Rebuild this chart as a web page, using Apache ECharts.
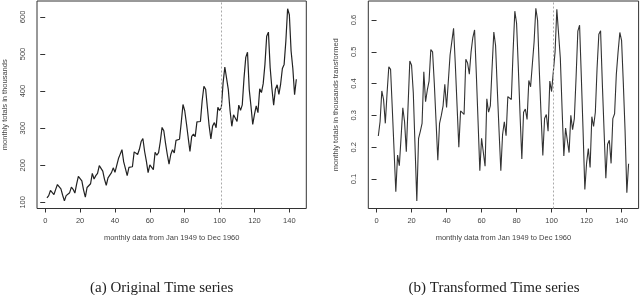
<!DOCTYPE html>
<html>
<head>
<meta charset="utf-8">
<script src="https://cdn.jsdelivr.net/npm/echarts@6/dist/echarts.min.js"></script>
<style>html,body{margin:0;padding:0;background:#fff}#c{width:640px;height:295px}</style>
</head>
<body>
<div id="c"></div>
<script>
// Original monthly totals (thousands), Jan 1949 .. Dec 1960
const original = [
  112,118,132,129,121,135,148,148,136,119,104,118,
  115,126,141,135,125,149,170,170,158,133,114,140,
  145,150,178,163,172,178,199,199,184,162,146,166,
  171,180,193,181,183,218,230,242,209,191,172,194,
  196,196,236,235,229,243,264,272,237,211,180,201,
  204,188,235,227,234,264,302,293,259,229,203,229,
  242,233,267,269,270,315,364,347,312,274,237,278,
  284,277,317,313,318,374,413,405,355,306,271,306,
  315,301,356,348,355,422,465,467,404,347,305,336,
  340,318,362,348,363,435,491,505,404,359,310,337,
  360,342,406,396,420,472,548,559,463,407,362,405,
  417,391,419,461,472,535,622,606,508,461,390,432
];
// Transformed series
const transformed = [
  0.235,0.28,0.377,0.35,0.275,0.37,0.453,0.445,0.32,0.19,0.06,0.175,
  0.142,0.23,0.324,0.28,0.186,0.33,0.471,0.458,0.37,0.2,0.031,0.228,
  0.25,0.275,0.437,0.343,0.38,0.408,0.507,0.5,0.4,0.28,0.159,0.275,
  0.3,0.33,0.398,0.325,0.325,0.49,0.532,0.574,0.46,0.33,0.2,0.314,
  0.31,0.303,0.477,0.465,0.43,0.5,0.545,0.569,0.43,0.28,0.126,0.228,
  0.23,0.14,0.352,0.31,0.33,0.45,0.562,0.52,0.38,0.25,0.126,0.24,
  0.28,0.236,0.359,0.355,0.35,0.5,0.628,0.59,0.45,0.3,0.163,0.31,
  0.32,0.287,0.41,0.39,0.395,0.53,0.637,0.6,0.44,0.3,0.174,0.29,
  0.303,0.25,0.408,0.375,0.38,0.5,0.634,0.628,0.48,0.32,0.172,0.26,
  0.26,0.183,0.3,0.255,0.29,0.42,0.565,0.584,0.42,0.25,0.067,0.15,
  0.196,0.136,0.296,0.265,0.31,0.45,0.555,0.566,0.4,0.25,0.102,0.209,
  0.222,0.149,0.29,0.305,0.43,0.5,0.561,0.535,0.4,0.25,0.057,0.148
];
const xTicks = [0,20,40,60,80,100,120,140];
const yTicksLeft = [100,200,300,400,500,600];
const yTicksRight = [0.1,0.2,0.3,0.4,0.5,0.6];
const splitPoint = 101;
const xTitle = 'monthly data from Jan 1949 to Dec 1960';
const yTitleLeft = 'monthly totals in thousands';
const yTitleRight = 'monthly totals in thousands transformed';
const captionA = '(a) Original Time series';
const captionB = '(b) Transformed Time series';

const chart = echarts.init(document.getElementById('c'), null, {renderer:'canvas'});
const FONT = 'Liberation Sans';
const FS = 7.5;
const TXT = '#444';
const LINE = '#333';

function xAxisCfg(gi){
  return {
    type:'value', gridIndex:gi, min:-4.72, max:149.72,
    axisLine:{show:false},
    splitLine:{show:false},
    axisTick:{show:true, inside:false, length:4, customValues:xTicks, lineStyle:{color:LINE,width:1}},
    axisLabel:{show:true, customValues:xTicks, margin:8, fontSize:FS, fontFamily:FONT, color:TXT},
    name:xTitle, nameLocation:'middle', nameGap:25,
    nameTextStyle:{fontSize:FS, fontFamily:FONT, color:TXT}
  };
}
function yAxisCfg(gi, min, max, ticks, title){
  return {
    type:'value', gridIndex:gi, min:min, max:max,
    axisLine:{show:false},
    splitLine:{show:false},
    axisTick:{show:true, inside:false, length:5, customValues:ticks, lineStyle:{color:LINE,width:1}},
    axisLabel:{show:true, customValues:ticks, rotate:90, align:'center', verticalAlign:'bottom',
               margin:10, fontSize:FS, fontFamily:FONT, color:TXT},
    name:title, nameLocation:'middle', nameGap:28, nameRotate:90,
    nameTextStyle:{fontSize:FS, fontFamily:FONT, color:TXT}
  };
}
const mark = {
  silent:true, symbol:['none','none'], label:{show:false},
  lineStyle:{type:[2,2], color:'#aaa', width:1},
  data:[{xAxis:splitPoint}]
};

chart.setOption({
  animation:false,
  backgroundColor:'#fff',
  grid:[
    {left:36, top:1, width:270.3, height:207.5, show:true, borderColor:LINE, borderWidth:1},
    {left:368.3, top:1, width:270.3, height:207.5, show:true, borderColor:LINE, borderWidth:1}
  ],
  xAxis:[xAxisCfg(0), xAxisCfg(1)],
  yAxis:[
    yAxisCfg(0, 83.3, 643, yTicksLeft, yTitleLeft),
    yAxisCfg(1, 0.007, 0.66, yTicksRight, yTitleRight)
  ],
  series:[
    {type:'line', xAxisIndex:0, yAxisIndex:0, showSymbol:false,
     data:original.map((v,i)=>[i+1,v]), lineStyle:{color:'#222', width:1.2}, markLine:mark},
    {type:'line', xAxisIndex:1, yAxisIndex:1, showSymbol:false,
     data:transformed.map((v,i)=>[i+1,v]), lineStyle:{color:'#333', width:1.1}, markLine:mark}
  ],
  graphic:[
    {type:'text', x:161.7, y:288, style:{text:captionA, font:'15px "Liberation Serif"', fill:'#222', align:'center', verticalAlign:'middle'}},
    {type:'text', x:494, y:288, style:{text:captionB, font:'15px "Liberation Serif"', fill:'#222', align:'center', verticalAlign:'middle'}}
  ]
});
</script>
</body>
</html>
